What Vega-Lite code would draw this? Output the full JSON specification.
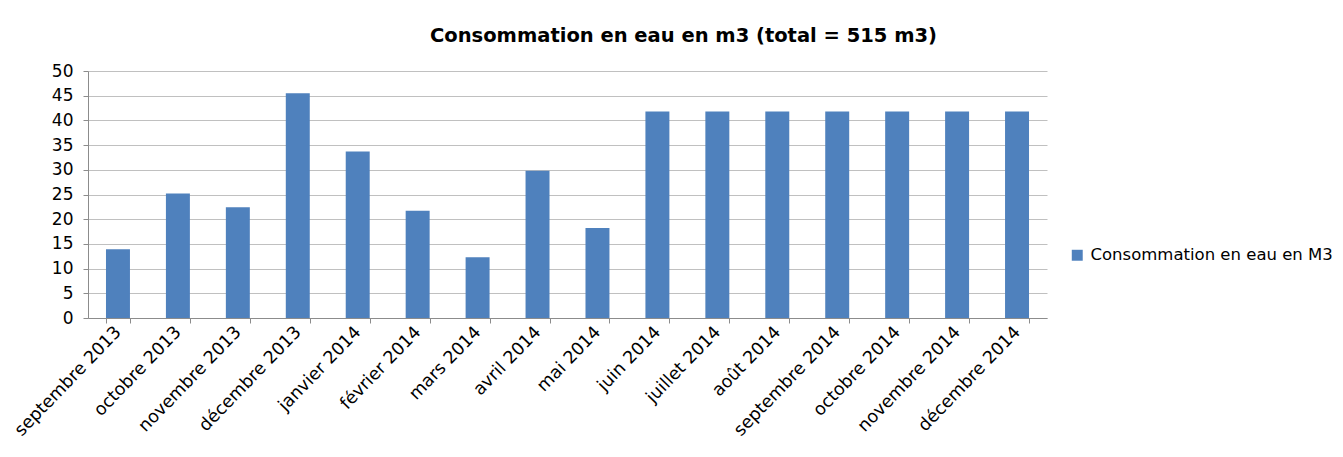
{
  "$schema": "https://vega.github.io/schema/vega-lite/v6.json",
  "width": 959,
  "height": 247,
  "autosize": {"type": "none"},
  "padding": {"left": 88, "top": 71, "right": 296, "bottom": 139},
  "background": "white",
  "title": {
    "text": "Consommation en eau en m3 (total = 515 m3)",
    "font": "DejaVu Sans",
    "fontSize": 19.5,
    "fontWeight": "bold",
    "color": "#000000",
    "anchor": "middle",
    "dx": 116,
    "offset": 16
  },
  "config": {"view": {"stroke": null}},
  "data": {
    "values": [
      {"mois": "septembre 2013", "valeur": 13.9},
      {"mois": "octobre 2013", "valeur": 25.2},
      {"mois": "novembre 2013", "valeur": 22.4},
      {"mois": "décembre 2013", "valeur": 45.5},
      {"mois": "janvier 2014", "valeur": 33.7},
      {"mois": "février 2014", "valeur": 21.7},
      {"mois": "mars 2014", "valeur": 12.3},
      {"mois": "avril 2014", "valeur": 29.8},
      {"mois": "mai 2014", "valeur": 18.2},
      {"mois": "juin 2014", "valeur": 41.8},
      {"mois": "juillet 2014", "valeur": 41.8},
      {"mois": "août 2014", "valeur": 41.8},
      {"mois": "septembre 2014", "valeur": 41.8},
      {"mois": "octobre 2014", "valeur": 41.8},
      {"mois": "novembre 2014", "valeur": 41.8},
      {"mois": "décembre 2014", "valeur": 41.8}
    ]
  },
  "mark": {"type": "bar"},
  "encoding": {
    "x": {
      "field": "mois",
      "type": "nominal",
      "sort": null,
      "scale": {"paddingInner": 0.6, "paddingOuter": 0.3},
      "axis": {
        "title": null,
        "labelAngle": -46,
        "labelAlign": "right",
        "labelBaseline": "middle",
        "labelFont": "DejaVu Sans",
        "labelFontSize": 17.5,
        "labelColor": "#000000",
        "labelPadding": 6,
        "labelLimit": 300,
        "tickBand": "extent",
        "tickSize": 5,
        "tickColor": "#8c8c8c",
        "domainColor": "#8c8c8c",
        "grid": false
      }
    },
    "y": {
      "field": "valeur",
      "type": "quantitative",
      "scale": {"domain": [0, 50], "nice": false},
      "axis": {
        "title": null,
        "values": [0, 5, 10, 15, 20, 25, 30, 35, 40, 45, 50],
        "labelFont": "DejaVu Sans",
        "labelFontSize": 17,
        "labelColor": "#000000",
        "labelPadding": 10,
        "tickSize": 5,
        "tickColor": "#8c8c8c",
        "domain": true,
        "domainColor": "#8c8c8c",
        "grid": true,
        "gridColor": "#c0c0c0",
        "gridWidth": 1
      }
    },
    "color": {
      "datum": "Consommation en eau en M3",
      "type": "nominal",
      "scale": {"range": ["#4F81BD"]},
      "legend": {
        "title": null,
        "orient": "none",
        "legendX": 981,
        "legendY": 176,
        "symbolType": "square",
        "symbolSize": 120,
        "symbolStrokeWidth": 0,
        "labelFont": "DejaVu Sans",
        "labelFontSize": 16.5,
        "labelColor": "#000000",
        "labelOffset": 5,
        "labelLimit": 400
      }
    }
  }
}
